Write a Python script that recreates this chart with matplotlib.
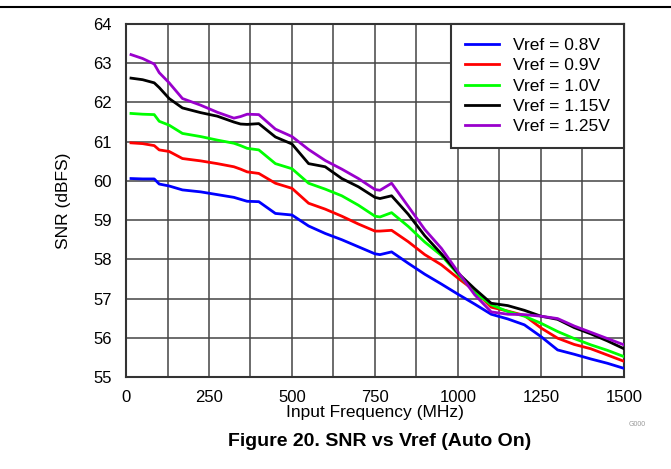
import matplotlib.pyplot as plt
from matplotlib.lines import Line2D

plt.rcParams['font.family'] = ['Liberation Sans', 'DejaVu Sans']

freq = [15, 50, 85, 100, 130, 170, 225, 275, 325, 345, 365, 400, 450, 500,
        550, 600, 650, 700, 750, 765, 800, 850, 900, 950, 1000, 1050, 1100,
        1150, 1200, 1250, 1300, 1350, 1400, 1450, 1500]

snr_08 = [60.06, 60.05, 60.05, 59.92, 59.87, 59.77, 59.72, 59.65, 59.58, 59.53,
          59.48, 59.47, 59.17, 59.13, 58.85, 58.66, 58.50, 58.32, 58.14, 58.12,
          58.19, 57.90, 57.62, 57.37, 57.11, 56.86, 56.60, 56.48, 56.33, 56.03,
          55.69, 55.58, 55.46, 55.35, 55.22]
snr_09 = [60.97, 60.95, 60.90, 60.79, 60.75, 60.57, 60.51, 60.44, 60.36, 60.30,
          60.23, 60.19, 59.94, 59.81, 59.43, 59.28, 59.10, 58.90, 58.72, 58.72,
          58.74, 58.45, 58.12, 57.86, 57.52, 57.20, 56.78, 56.68, 56.57, 56.25,
          55.99, 55.83, 55.72, 55.56, 55.40]
snr_10 = [61.72, 61.70, 61.69, 61.52, 61.42, 61.21, 61.13, 61.04, 60.96, 60.90,
          60.83, 60.79, 60.44, 60.31, 59.94, 59.79, 59.62, 59.38, 59.10, 59.08,
          59.19, 58.84, 58.44, 58.10, 57.62, 57.16, 56.84, 56.67, 56.55, 56.37,
          56.16, 55.98, 55.82, 55.68, 55.52]
snr_115 = [62.62, 62.58, 62.50, 62.38, 62.10, 61.86, 61.74, 61.65, 61.50, 61.45,
           61.44, 61.46, 61.12, 60.94, 60.44, 60.36, 60.06, 59.85, 59.58, 59.55,
           59.62, 59.15, 58.60, 58.14, 57.65, 57.25, 56.88, 56.82, 56.70, 56.55,
           56.47, 56.26, 56.10, 55.92, 55.72]
snr_125 = [63.22, 63.12, 62.98, 62.76, 62.50, 62.10, 61.93, 61.75, 61.60, 61.64,
           61.70, 61.69, 61.32, 61.13, 60.80, 60.52, 60.30, 60.06, 59.78, 59.76,
           59.94, 59.35, 58.76, 58.28, 57.68, 57.10, 56.66, 56.60, 56.59, 56.55,
           56.49, 56.30, 56.14, 55.98, 55.82]

labels = ["Vref = 0.8V", "Vref = 0.9V", "Vref = 1.0V", "Vref = 1.15V", "Vref = 1.25V"]
colors = ["#0000FF", "#FF0000", "#00FF00", "#000000", "#9900CC"]
series = [snr_08, snr_09, snr_10, snr_115, snr_125]

x_ticks = [0, 250, 500, 750, 1000, 1250, 1500]
y_ticks = list(range(55, 65))

fig = plt.figure(figsize=(6.71, 4.69), dpi=100)
ax = fig.add_axes([126 / 671, 1 - 377 / 469, 498 / 671, 353 / 469])

for vals, col, lab in zip(series, colors, labels):
    ax.plot(freq, vals, color=col, linewidth=2.0, label=lab, zorder=3)

ax.set_xlim(0, 1500)
ax.set_ylim(55, 64)
ax.set_xticks(x_ticks)
ax.set_xticks(range(0, 1501, 125), minor=True)
ax.set_yticks(y_ticks)
ax.grid(True, which="both", color="#444444", linewidth=1.1)
ax.set_axisbelow(True)
ax.tick_params(which="both", length=0)
ax.tick_params(axis="x", pad=9, labelsize=12)
ax.tick_params(axis="y", pad=10, labelsize=12)
for s in ax.spines.values():
    s.set_color("#333333")
    s.set_linewidth(1.5)

ax.set_xlabel("Input Frequency (MHz)", fontsize=12.5, labelpad=0)
ax.set_ylabel("SNR (dBFS)", fontsize=12.5, labelpad=16)

leg = ax.legend(loc="upper right", borderaxespad=0, fancybox=False,
                edgecolor="#333333", fontsize=12.5, handlelength=1.95,
                handletextpad=0.8, labelspacing=0.3, borderpad=0.8,
                framealpha=1)
leg.get_frame().set_linewidth(1.5)
leg.set_zorder(5)

# page header rule, figure caption and graph id
fig.add_artist(Line2D([0, 1], [1 - 7 / 469, 1 - 7 / 469], color="black", linewidth=1.5))
fig.text(380 / 671, 1 - 441 / 469, "Figure 20. SNR vs Vref (Auto On)",
         ha="center", va="center", fontsize=14, fontweight="bold")
fig.text(637 / 671, 1 - 424 / 469, "G000", ha="center", va="center",
         fontsize=5, color="#999999")

fig.savefig("out.png", dpi=100)
